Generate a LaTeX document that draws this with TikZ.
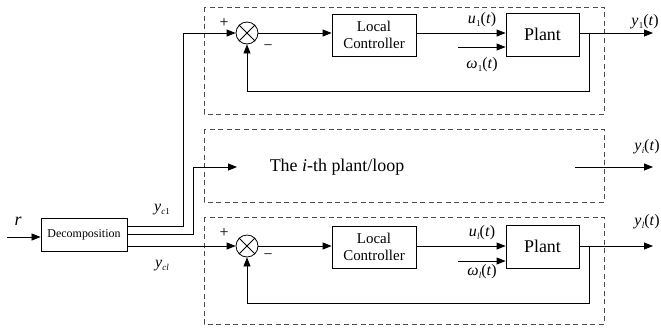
\documentclass[tikz,border=0pt]{standalone}
\usepackage{fontspec}
\setmainfont{Liberation Serif}
\usetikzlibrary{arrows.meta}
\newcommand\sigl[2]{\textit{#1}\kern0.3pt\raisebox{-0.4ex}{\fontsize{9}{9}\selectfont\textit{#2}}(\textit{t})}
\newcommand\sign[2]{\textit{#1}\kern0.3pt\raisebox{-0.4ex}{\fontsize{9}{9}\selectfont #2}(\textit{t})}
\begin{document}
\begin{tikzpicture}[x=1bp,y=-1bp,
  line width=0.8bp,
  arr/.style={-{Triangle[length=9bp,width=7bp]}},
  blk/.style={draw,rectangle,inner sep=0pt,align=center},
  sumj/.style={draw,circle,minimum size=22bp,inner sep=0pt},
  dbox/.style={draw=black!70,line width=0.8bp,dash pattern=on 5bp off 3.5bp},
  lbl/.style={inner sep=0pt,font=\fontsize{16}{16}\selectfont}
]
\useasboundingbox (0,0) rectangle (661,331);
% dashed boxes
\draw[dbox] (204,7) rectangle (604,114);
\draw[dbox] (204,129) rectangle (604,202);
\draw[dbox] (204,217) rectangle (604,324);
% decomposition
\node[blk,minimum width=86bp,minimum height=33bp,font=\fontsize{12}{12}\selectfont] (dec) at (84,234.5) {Decomposition};
\coordinate (rin) at (7,237);
\draw[arr] (rin) -- (rin -| dec.west);
\node[lbl,font=\fontsize{18}{18}\selectfont\itshape] (rl) at (18,221) {r};
% top loop
\node[sumj] (s1) at (247,33) {};
\draw (s1.45) -- (s1.225) (s1.135) -- (s1.315);
\node[blk,minimum width=84bp,minimum height=42bp,font=\fontsize{15}{17}\selectfont] (lc1) at (374,35) {Local\\Controller};
\node[blk,minimum width=73bp,minimum height=43bp,font=\fontsize{18}{18}\selectfont] (p1) at (542.5,34.5) {Plant};
\coordinate (w1) at (458,47);
\coordinate (o1) at (653,33);
\coordinate (f1) at (589,33);
\coordinate (fb1) at (589,91);
\draw[arr] (s1.east) -- (s1.east -| lc1.west);
\draw[arr] (lc1.east |- s1) -- (p1.west |- s1);
\draw[arr] (w1) -- (w1 -| p1.west);
\draw[arr] (p1.east |- s1) -- (o1);
\draw[arr] (f1) -- (fb1) -| (s1.south);
\node[lbl] (u1) at (482,20) {\sign{u}{1}};
\node[lbl] (om1) at (482,65) {\sign{ω}{1}};
\node[lbl] (y1) at (645,22) {\sign{y}{1}};
\node[lbl] (pl1) at (224,23) {+};
\node[lbl] (mi1) at (268,48) {−};
% bottom loop
\node[sumj] (s2) at (247,246) {};
\draw (s2.45) -- (s2.225) (s2.135) -- (s2.315);
\node[blk,minimum width=84bp,minimum height=42bp,font=\fontsize{15}{17}\selectfont] (lc2) at (374,247) {Local\\Controller};
\node[blk,minimum width=73bp,minimum height=43bp,font=\fontsize{18}{18}\selectfont] (p2) at (542.5,246.5) {Plant};
\coordinate (w2) at (458,261);
\coordinate (o2) at (653,246);
\coordinate (f2) at (589,246);
\coordinate (fb2) at (589,303);
\draw[arr] (s2.east) -- (s2.east -| lc2.west);
\draw[arr] (lc2.east |- s2) -- (p2.west |- s2);
\draw[arr] (w2) -- (w2 -| p2.west);
\draw[arr] (p2.east |- s2) -- (o2);
\draw[arr] (f2) -- (fb2) -| (s2.south);
\node[lbl] (u2) at (482,233) {\sigl{u}{l}};
\node[lbl] (om2) at (482,272) {\sigl{ω}{l}};
\node[lbl] (y2) at (647,222) {\sigl{y}{l}};
\node[lbl] (pl2) at (224,233) {+};
\node[lbl] (mi2) at (268,257) {−};
% middle
\node[lbl,font=\fontsize{18}{18}\selectfont] (mid) at (337,167) {The \textit{i}-th plant/loop};
\coordinate (mi) at (237,167);
\coordinate (mo1) at (575,167);
\coordinate (mo2) at (653,167);
\draw[arr] (mo1) -- (mo2);
\node[lbl,anchor=east] (yi) at (660,147) {\sigl{y}{i}};
% decomposition outputs
\coordinate (a1) at (183,226);
\coordinate (a2) at (193,234);
\draw[arr] (dec.east |- a1) -- (a1) |- (s1.west);
\draw[arr] (dec.east |- a2) -- (a2) |- (mi);
\draw[arr] (dec.east |- s2) -- (s2.west);
\node[lbl] (yc1) at (162,210) {\textit{y}\raisebox{-0.4ex}{\fontsize{9}{9}\selectfont\textit{c}1}};
\node[lbl] (ycl) at (162,266) {\textit{y}\raisebox{-0.4ex}{\fontsize{9}{9}\selectfont\textit{cl}}};
\end{tikzpicture}
\end{document}
